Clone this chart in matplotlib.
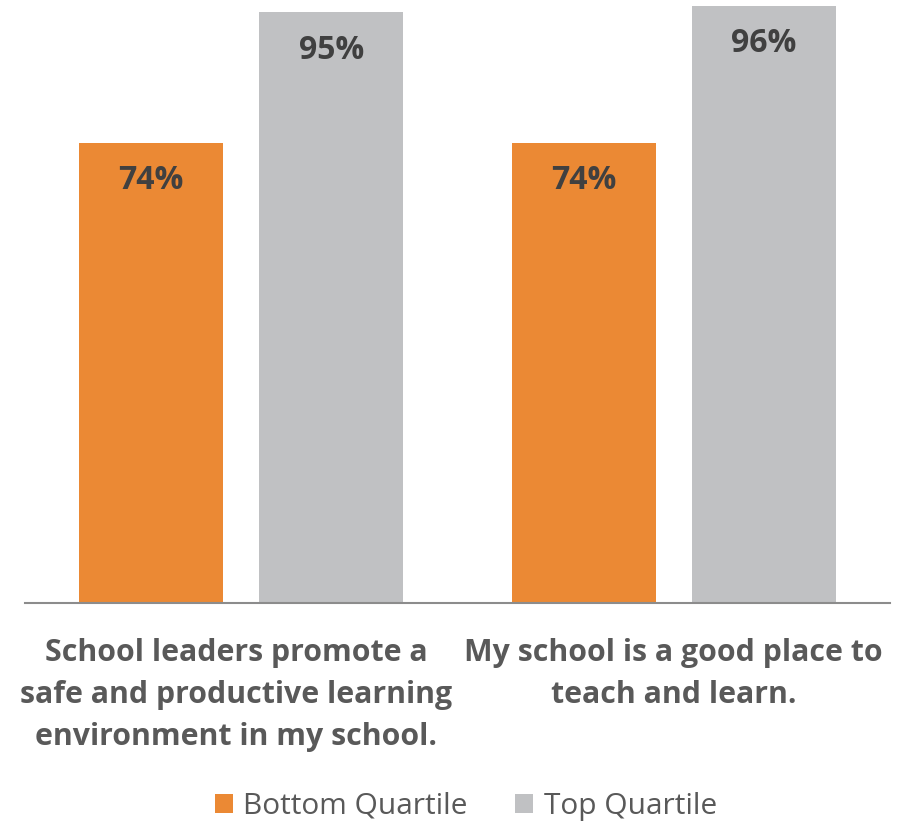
import numpy as np
import matplotlib.pyplot as plt
import matplotlib.transforms as mtransforms

categories = ["School leaders promote a\nsafe and productive learning\nenvironment in my school.",
              "My school is a good place to\nteach and learn."]
series_names = ["Bottom Quartile", "Top Quartile"]
bottom_quartile = [74, 74]
top_quartile = [95, 96]

colors = ["#EB8934", "#C0C1C3"]
text_grey = "#595959"
value_grey = "#404040"

plt.rcParams['font.family'] = ['Open Sans', 'DejaVu Sans']

fig = plt.figure(figsize=(9.15, 8.21), dpi=100)
ax = fig.add_axes([0.0273, 0.2655, 0.9454, 0.7345])

x = np.arange(len(categories))
width = 0.333
offset = 0.208

bars = []
for i, (vals, name) in enumerate(zip([bottom_quartile, top_quartile], series_names)):
    b = ax.bar(x + (i * 2 - 1) * offset, vals, width, color=colors[i], label=name)
    bars.append(b)
    for rect, v in zip(b, vals):
        ax.annotate(f"{v}%", (rect.get_x() + rect.get_width() / 2, rect.get_height()),
                    xytext=(0, -27.5), textcoords="offset points",
                    ha="center", va="center", fontsize=23, fontweight="bold",
                    color=value_grey)

ax.set_xlim(-0.5, 1.5)
ax.set_ylim(0, 96.9)
ax.set_yticks([])
for side in ["top", "right", "left"]:
    ax.spines[side].set_visible(False)
ax.spines["bottom"].set_color("#8C8C8C")
ax.spines["bottom"].set_linewidth(1.5)

ax.set_xticks(x)
ax.set_xticklabels(categories, fontsize=21.8, fontweight="bold", color=text_grey,
                   linespacing=1.52, va="top")
ax.tick_params(axis="x", length=0, pad=25)
# first label sits a little left of its group centre in the original
lbl = ax.get_xticklabels()[0]
lbl.set_transform(lbl.get_transform() + mtransforms.ScaledTranslation(-0.05, 0, fig.dpi_scale_trans))

fig.legend(handles=bars, labels=series_names, loc="center", bbox_to_anchor=(0.509, 0.018),
           ncol=2, frameon=False, fontsize=21.5, labelcolor=text_grey,
           handlelength=0.6, handleheight=0.6, handletextpad=0.35, columnspacing=1.6)

fig.savefig("out.png", dpi=100)
